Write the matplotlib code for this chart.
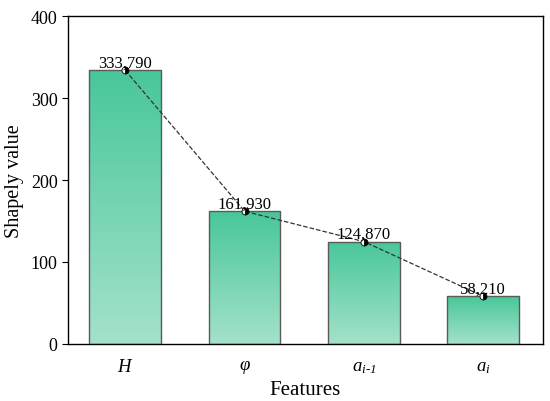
import numpy as np
import matplotlib
matplotlib.use("Agg")
import matplotlib.pyplot as plt
from matplotlib.colors import LinearSegmentedColormap

features = [r"$H$", r"$\varphi$", r"$a_{i\text{-}1}$", r"$a_i$"]
values = [333.790, 161.930, 124.870, 58.210]
labels = ["333,790", "161,930", "124,870", "58,210"]

plt.rcParams['font.family'] = ['Liberation Serif', 'DejaVu Serif']
plt.rcParams['mathtext.fontset'] = 'custom'
plt.rcParams['mathtext.it'] = 'Liberation Serif:italic'
plt.rcParams['mathtext.rm'] = 'Liberation Serif:italic'

fig = plt.figure(figsize=(5.5, 4.02), dpi=100)
ax = fig.add_axes([0.1236, 0.1418, 0.8634, 0.8159])

x = np.arange(len(values))
bars = ax.bar(x, values, width=0.6, color='none', edgecolor='#5a5a5a', linewidth=1.0, zorder=3)

cmap = LinearSegmentedColormap.from_list('g', ['#A4E2CA', '#48C799'])
grad = np.linspace(0, 1, 256).reshape(-1, 1)
for b in bars:
    bx, by = b.get_x(), b.get_y()
    w, h = b.get_width(), b.get_height()
    im = ax.imshow(grad, cmap=cmap, aspect='auto', origin='lower',
                   extent=[bx, bx + w, by, by + h], zorder=2)
    im.set_clip_path(b)

ax.plot(x, values, linestyle='--', color='#333333', linewidth=0.9, zorder=4,
        marker='o', markersize=5, fillstyle='right', markerfacecolor='black',
        markerfacecoloralt='white', markeredgecolor='black', markeredgewidth=0.6)

for xi, v, lab in zip(x, values, labels):
    ax.text(xi, v, lab, ha='center', va='bottom', fontsize=12, zorder=5)

ax.set_xlim(-0.48, 3.5)
ax.set_ylim(0, 400)
ax.set_yticks([0, 100, 200, 300, 400])
ax.set_xticks(x)
ax.set_xticklabels(features, fontsize=13.5)
ax.tick_params(axis='x', length=0, pad=10)
ax.tick_params(axis='y', direction='out', length=4, labelsize=13)
ax.set_ylabel('Shapely value', fontsize=14.5, labelpad=5)
ax.set_xlabel('Features', fontsize=15, labelpad=4)
for s in ax.spines.values():
    s.set_linewidth(1.0)

fig.savefig('out.png', dpi=100)
